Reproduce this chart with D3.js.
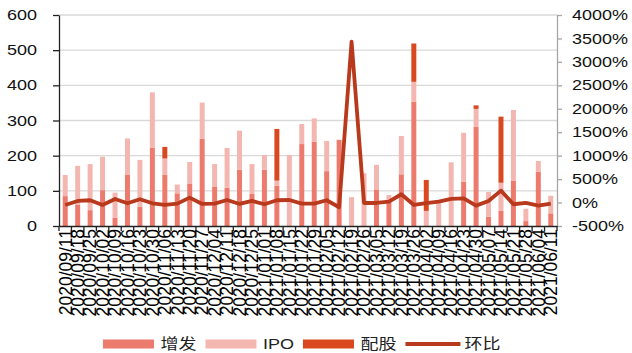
<!DOCTYPE html>
<html>
<head>
<meta charset="utf-8">
<script src="https://cdn.jsdelivr.net/npm/d3@7"></script>
<style>
  body { margin: 0; background: #fff; }
  svg text { font-family: "Liberation Sans", Arial, "Noto Sans CJK SC", sans-serif; fill: #111; }
</style>
</head>
<body>
<div id="chart"></div>
<script>
// weekly dates
const dates = [
  "2020/09/11","2020/09/18","2020/09/25","2020/10/02","2020/10/09","2020/10/16","2020/10/23","2020/10/30",
  "2020/11/06","2020/11/13","2020/11/20","2020/11/27","2020/12/04","2020/12/11","2020/12/18","2020/12/25",
  "2021/01/01","2021/01/08","2021/01/15","2021/01/22","2021/01/29","2021/02/05","2021/02/12","2021/02/19",
  "2021/02/26","2021/03/05","2021/03/12","2021/03/19","2021/03/26","2021/04/02","2021/04/09","2021/04/16",
  "2021/04/23","2021/04/30","2021/05/07","2021/05/14","2021/05/21","2021/05/28","2021/06/04","2021/06/11"
];
const zengfa = [85,60,45,102,24,145,55,223,145,93,121,248,111,109,160,92,160,115,0,233,
                240,156,245,0,0,104,75,147,353,0,0,0,126,282,26,43,128,14,154,36];
const ipo    = [60,111,131,95,71,104,133,157,47,25,61,103,65,113,111,84,42,14,202,57,
                66,86,0,82,150,70,13,109,57,43,65,181,139,51,71,80,202,35,31,50];
const peigu  = [0,0,0,0,0,0,0,0,33,0,0,0,0,0,0,0,0,147,0,0,
                0,0,0,0,0,0,0,0,109,88,0,0,0,10,0,188,0,0,0,0];
const huanbi = [-51,34,49,-51,77,-15,70,-15,-51,-23,105,-30,-23,55,-30,34,-36,49,55,-23,
                -23,49,-100,3432,-9,-9,19,177,-51,-12,19,77,91,-66,34,254,-36,-9,-66,-23];

const leftTicks = [0,100,200,300,400,500,600];
const rightTicks = [-500,0,500,1000,1500,2000,2500,3000,3500,4000];

const seriesNames = ["增发","IPO","配股"];
const colors = {"增发":"#ec7b6d","IPO":"#f4b6b0","配股":"#d9481f","环比":"#b8391c"};

const W = 632, H = 353;
const margin = {top: 15, right: 75, bottom: 127, left: 59};
const innerW = W - margin.left - margin.right;
const innerH = H - margin.top - margin.bottom;

const svg = d3.select("#chart").append("svg")
    .attr("width", W)
    .attr("height", H);

const g = svg.append("g")
    .attr("transform", "translate(" + margin.left + "," + margin.top + ")");

const x = d3.scaleBand()
    .domain(dates)
    .range([0, innerW])
    .paddingInner(0.6)
    .paddingOuter(0.3);

const y = d3.scaleLinear().domain([0, 600]).range([innerH, 0]);
const y2 = d3.scaleLinear().domain([-500, 4000]).range([innerH, 0]);

// grid
g.append("g")
  .selectAll("line")
  .data(leftTicks.filter(d => d > 0))
  .enter().append("line")
    .attr("x1", 0)
    .attr("x2", innerW)
    .attr("y1", d => y(d))
    .attr("y2", d => y(d))
    .attr("stroke", "#d9d9d9")
    .attr("stroke-width", 1.4);

// stacked bars
const table = dates.map((d, i) => ({date: d, "增发": zengfa[i], "IPO": ipo[i], "配股": peigu[i]}));
const stack = d3.stack().keys(seriesNames)(table);

g.append("g")
  .selectAll("g")
  .data(stack)
  .enter().append("g")
    .attr("fill", d => colors[d.key])
  .selectAll("rect")
  .data(d => d)
  .enter().append("rect")
    .attr("x", d => x(d.data.date))
    .attr("width", x.bandwidth())
    .attr("y", d => y(d[1]))
    .attr("height", d => y(d[0]) - y(d[1]));

// line
const line = d3.line()
    .x((d, i) => x(dates[i]) + x.bandwidth() / 2)
    .y(d => y2(d));

g.append("path")
    .datum(huanbi)
    .attr("fill", "none")
    .attr("stroke", colors["环比"])
    .attr("stroke-width", 3.8)
    .attr("stroke-linejoin", "round")
    .attr("d", line);

// left axis
const axL = g.append("g")
    .call(d3.axisLeft(y).tickValues(leftTicks).tickSize(6).tickPadding(16).tickSizeOuter(0));
axL.select(".domain").attr("stroke", "#222").attr("stroke-width", 1.3);
axL.selectAll(".tick line").attr("stroke", "#222").attr("stroke-width", 1.3);
axL.selectAll("text")
    .style("font-size", "18px")
    .attr("transform", "scale(1,0.8)");

// right axis
const axR = g.append("g")
    .attr("transform", "translate(" + innerW + ",0)")
    .call(d3.axisRight(y2).tickValues(rightTicks).tickSize(5).tickPadding(10).tickSizeOuter(0)
      .tickFormat(d => d + "%"));
axR.select(".domain").attr("stroke", "#a6a6a6").attr("stroke-width", 1.3);
axR.selectAll(".tick line").attr("stroke", "#a6a6a6").attr("stroke-width", 1.3);
axR.selectAll("text")
    .style("font-size", "18px")
    .attr("transform", "scale(1,0.8)");

// bottom axis
const axB = g.append("g")
    .attr("transform", "translate(0," + innerH + ")")
    .call(d3.axisBottom(x).tickSize(0).tickPadding(0).tickSizeOuter(0));
axB.select(".domain").attr("stroke", "#222").attr("stroke-width", 1.3);
axB.selectAll("text")
    .style("font-size", "17.5px")
    .style("fill", "#000")
    .attr("text-anchor", "end")
    .attr("transform", "rotate(-90)")
    .attr("x", -3)
    .attr("y", 0)
    .attr("dy", "0.36em");

// category boundary ticks
g.append("g")
  .selectAll("line")
  .data(d3.range(dates.length + 1))
  .enter().append("line")
    .attr("x1", i => i * x.step())
    .attr("x2", i => i * x.step())
    .attr("y1", innerH)
    .attr("y2", innerH + 5)
    .attr("stroke", "#222")
    .attr("stroke-width", 1.3);

// legend
const legend = svg.append("g").attr("transform", "translate(103,344)");
let lx = 0;
["增发","IPO","配股","环比"].forEach(name => {
  const item = legend.append("g").attr("transform", "translate(" + lx + ",0)");
  if (name === "环比") {
    item.append("line")
        .attr("x1", 0).attr("x2", 55).attr("y1", 0).attr("y2", 0)
        .attr("stroke", colors[name]).attr("stroke-width", 4);
  } else {
    item.append("rect")
        .attr("x", 0).attr("y", -4.5).attr("width", 51).attr("height", 9)
        .attr("fill", colors[name]);
  }
  const sw = name === "环比" ? 59 : 57.5;
  const t = item.append("text")
      .attr("x", sw)
      .attr("dy", "0.36em")
      .attr("transform", "scale(1,0.8)")
      .style("font-size", "18px")
      .style("fill", "#222")
      .text(name);
  lx += sw + t.node().getComputedTextLength() + 9;
});
</script>
</body>
</html>
